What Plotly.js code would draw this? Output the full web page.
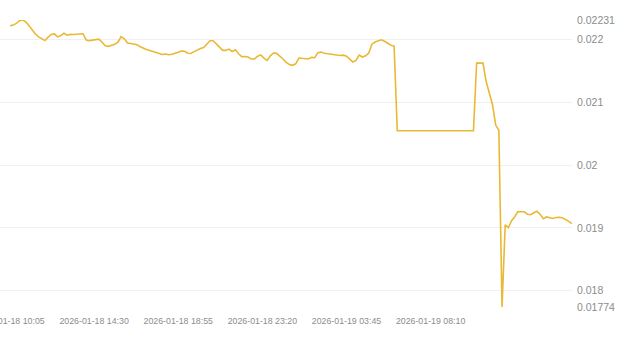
<!DOCTYPE html>
<html>
<head>
<meta charset="utf-8">
<script src="https://cdn.plot.ly/plotly-3.0.1.min.js"></script>
<style>
html,body{margin:0;padding:0;background:#fff;}
#chart{width:642px;height:355px;}
</style>
</head>
<body>
<div id="chart"></div>
<script>
// Data: one sample every 10 minutes starting at startTime
const startTime = '2026-01-18 10:05';
const stepMinutes = 10;
const prices = [
0.022218,0.022229,0.022256,0.022298,0.02231,0.022280,0.022218,0.022145,0.022086,0.022041,
0.022019,0.021984,0.022037,0.022080,0.022088,0.022041,0.022062,0.022099,0.022068,0.022081,
0.022080,0.022086,0.022086,0.022091,0.021992,0.021981,0.021990,0.022000,0.022005,0.021955,
0.021898,0.021890,0.021901,0.021922,0.021957,0.022045,0.022011,0.021943,0.021935,0.021932,
0.021917,0.021884,0.021857,0.021839,0.021823,0.021806,0.021790,0.021768,0.021761,0.021768,
0.021756,0.021766,0.021775,0.021796,0.021815,0.021812,0.021780,0.021777,0.021807,0.021839,
0.021857,0.021873,0.021922,0.021979,0.021979,0.021932,0.021879,0.021826,0.021826,0.021847,
0.021809,0.021836,0.021772,0.021726,0.021728,0.021721,0.021688,0.021688,0.021734,0.021752,
0.021702,0.021667,0.021740,0.021785,0.021779,0.021739,0.021689,0.021635,0.021602,0.021588,
0.021613,0.021704,0.021696,0.021696,0.021689,0.021715,0.021709,0.021790,0.021799,0.021780,
0.021772,0.021761,0.021756,0.021756,0.021745,0.021750,0.021734,0.021686,0.021642,0.021666,
0.021752,0.021721,0.021740,0.021782,0.021925,0.021959,0.021979,0.021995,0.021971,0.021939,
0.021909,0.021895,0.020546,0.020546,0.020546,0.020546,0.020546,0.020546,0.020546,0.020546,
0.020546,0.020546,0.020546,0.020546,0.020546,0.020546,0.020546,0.020546,0.020546,0.020546,
0.020546,0.020546,0.020546,0.020546,0.020546,0.020546,0.020546,0.021624,0.021624,0.021624,
0.021330,0.021156,0.020960,0.020637,0.020554,0.01774,0.019049,0.019002,0.019113,0.019177,
0.019261,0.019256,0.019256,0.019217,0.019209,0.019240,0.019264,0.019217,0.019145,0.019174,
0.019164,0.019150,0.019164,0.019170,0.019162,0.019137,0.019104,0.019068
];
const yTickVals = [0.01774, 0.018, 0.019, 0.02, 0.021, 0.022, 0.02231];
const yTickText = ['0.01774', '0.018', '0.019', '0.02', '0.021', '0.022', '0.02231'];
const xTickLabels = ['2026-01-18 10:05', '2026-01-18 14:30', '2026-01-18 18:55',
                     '2026-01-18 23:20', '2026-01-19 03:45', '2026-01-19 08:10'];
const xRange = ['2026-01-18 09:33:30', '2026-01-19 15:35:24'];

function pad(n){return (n<10?'0':'')+n;}
function fmt(d){
  return d.getUTCFullYear()+'-'+pad(d.getUTCMonth()+1)+'-'+pad(d.getUTCDate())+' '+pad(d.getUTCHours())+':'+pad(d.getUTCMinutes())+':00';
}
const p = startTime.split(/[- :]/).map(Number);
const t0 = Date.UTC(p[0], p[1]-1, p[2], p[3], p[4]);
const times = prices.map((_, i) => fmt(new Date(t0 + i*stepMinutes*60000)));

const labelColor = '#8c8c8c';

Plotly.newPlot('chart', [{
  x: times,
  y: prices,
  type: 'scatter',
  mode: 'lines',
  line: {color: '#e9b935', width: 1.6},
  hoverinfo: 'skip'
}], {
  width: 642, height: 355,
  margin: {l: 0, r: 70, t: 20, b: 48},
  paper_bgcolor: '#ffffff',
  plot_bgcolor: '#ffffff',
  showlegend: false,
  xaxis: {
    type: 'date',
    range: xRange,
    tickmode: 'array',
    tickvals: xTickLabels,
    ticktext: xTickLabels,
    showgrid: false,
    zeroline: false,
    showline: false,
    ticks: '',
    ticklabeloverflow: 'allow',
    ticklabelstandoff: 7,
    tickfont: {family: '"Liberation Sans", Arial, sans-serif', size: 8.8, color: labelColor}
  },
  yaxis: {
    side: 'right',
    range: [0.01774, 0.02231],
    tickmode: 'array',
    tickvals: yTickVals,
    ticktext: yTickText,
    showgrid: true,
    gridcolor: '#f0f0f0',
    gridwidth: 1,
    zeroline: false,
    showline: false,
    ticks: '',
    tickfont: {family: '"Liberation Sans", Arial, sans-serif', size: 10.5, color: labelColor},
    ticklabelstandoff: 4
  }
}, {staticPlot: true, displayModeBar: false});
</script>
</body>
</html>
